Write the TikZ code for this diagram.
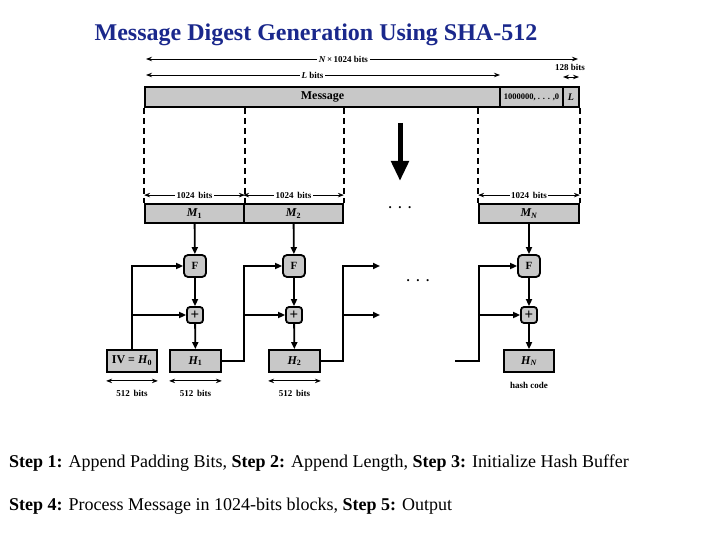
\documentclass[tikz,border=0pt]{standalone}
\usepackage{fontspec}
\setmainfont{Liberation Serif}
\usetikzlibrary{arrows.meta}
\definecolor{boxgray}{RGB}{200,200,200}
\definecolor{titleblue}{RGB}{26,40,140}
\begin{document}
\begin{tikzpicture}[x=1pt,y=-1pt,
  blk/.style={draw, line width=1.8pt, fill=boxgray, inner sep=0pt, font=\bfseries\fontsize{11}{12}\selectfont},
  fbox/.style={blk, rounded corners=4pt, minimum width=22pt, minimum height=22pt},
  pbox/.style={blk, rounded corners=3pt, minimum width=16pt, minimum height=16pt, font=\bfseries\fontsize{15}{15}\selectfont},
  conn/.style={line width=1.8pt, -{Triangle[length=7pt,width=6pt]}},
  dim/.style={line width=0.9pt, {Stealth[length=6pt,width=4.5pt]}-{Stealth[length=6pt,width=4.5pt]}},
  lbl/.style={font=\bfseries\fontsize{9}{10}\selectfont, inner sep=1.5pt},
  mlab/.style={font=\bfseries\itshape\fontsize{12}{13}\selectfont},
  dsh/.style={line width=1.8pt, dash pattern=on 6pt off 4pt}
]
\useasboundingbox (0,0) rectangle (720,540);

% title
\node[text=titleblue, font=\bfseries\fontsize{24}{28}\selectfont] (title) at (316,35) {Message Digest Generation Using SHA-512};

% message bar
\node[blk, minimum width=355pt, minimum height=20pt, font=\bfseries\fontsize{12}{13}\selectfont] (msg) at (322.5,97) {Message};
\node[blk, minimum width=63pt, minimum height=20pt, font=\bfseries\fontsize{8.5}{9}\selectfont] (pad) at (531.5,97) {1000000, . . . ,0};
\node[blk, minimum width=16pt, minimum height=20pt, font=\bfseries\itshape\fontsize{10}{11}\selectfont] (len) at (571,97) {L};

% top dimension arrows
\coordinate (na) at (146,59); \coordinate (nb) at (578,59);
\draw[dim] (na) -- (nb) node[lbl, pos=0.457, fill=white] (nlbl) {\textit{N}\,×\,1024 bits};
\coordinate (la) at (146,75); \coordinate (lb) at (500,75);
\draw[dim] (la) -- (lb) node[lbl, pos=0.47, fill=white] (llbl) {\textit{L} bits};
\coordinate (ka) at (563,77); \coordinate (kb) at (579,77);
\draw[dim] (ka) -- (kb);
\node[lbl] (klbl) at (570,67) {128 bits};

% M boxes
\node[blk, minimum width=99pt, minimum height=19pt, mlab] (M1) at (194.5,213.5) {M\textsubscript{\upshape 1}};
\node[blk, minimum width=99pt, minimum height=19pt, mlab] (M2) at (293.5,213.5) {M\textsubscript{\upshape 2}};
\node[blk, minimum width=100pt, minimum height=19pt, mlab] (MN) at (529,213.5) {M\textsubscript{N}};
\node[font=\bfseries\fontsize{13}{13}\selectfont] (dots1) at (400,208) {.\,\,\,.\,\,\,.};

% dashed lines
\draw[dsh] (M1.north west |- msg.south) -- (M1.north west);
\draw[dsh] (M1.north east |- msg.south) -- (M1.north east);
\draw[dsh] (M2.north east |- msg.south) -- (M2.north east);
\draw[dsh] (MN.north west |- msg.south) -- (MN.north west);
\draw[dsh] (MN.north east |- len.south) -- (MN.north east);

% big arrow
\coordinate (ba) at (400,123); \coordinate (bb) at (400,181);
\draw[line width=5pt, -{Triangle[length=20pt,width=17pt]}] (ba) -- (bb);

% 1024 bits
\draw[dim] ([yshift=8pt]M1.north west) -- ([yshift=8pt]M1.north east) node[lbl, midway, fill=white] {1024\, bits};
\draw[dim] ([yshift=8pt]M2.north west) -- ([yshift=8pt]M2.north east) node[lbl, midway, fill=white] {1024\, bits};
\draw[dim] ([yshift=8pt]MN.north west) -- ([yshift=8pt]MN.north east) node[lbl, midway, fill=white] {1024\, bits};

% F and + boxes
\node[fbox] (F1) at (195,266) {F};
\node[fbox] (F2) at (294,266) {F};
\node[fbox] (FN) at (529,266) {F};
\node[pbox] (P1) at (195,315) {+};
\node[pbox] (P2) at (294,315) {+};
\node[pbox] (PN) at (529,315) {+};
\node[font=\bfseries\fontsize{13}{13}\selectfont] (dots2) at (418,281) {.\,\,\,.\,\,\,.};

% H boxes
\node[blk, minimum width=50pt, minimum height=22pt, font=\bfseries\fontsize{12}{13}\selectfont] (IV) at (132,361) {IV = \textit{H}\textsubscript{0}};
\node[blk, minimum width=51pt, minimum height=22pt, mlab] (H1) at (195.5,361) {H\textsubscript{\upshape 1}};
\node[blk, minimum width=51pt, minimum height=22pt, mlab] (H2) at (294.5,361) {H\textsubscript{\upshape 2}};
\node[blk, minimum width=50pt, minimum height=22pt, mlab] (HN) at (529,361) {H\textsubscript{N}};
\node[lbl] (hc) at (529,385) {hash code};

% vertical flow
\draw[conn] (M1) -- (F1); \draw[conn] (F1) -- (P1); \draw[conn] (P1) -- (H1);
\draw[conn] (M2) -- (F2); \draw[conn] (F2) -- (P2); \draw[conn] (P2) -- (H2);
\draw[conn] (MN) -- (FN); \draw[conn] (FN) -- (PN); \draw[conn] (PN) -- (HN);

% feedback
\draw[conn] (IV.north) |- (F1.west);
\draw[conn] (IV.north |- P1.west) -- (P1.west);
\coordinate (j1) at (244,0);
\draw[conn] (H1.east) -| (j1 |- F2.west) -- (F2.west);
\draw[conn] (j1 |- P2.west) -- (P2.west);
\coordinate (j2) at (343,0);
\coordinate (e1) at (380,266); \coordinate (e2) at (380,315);
\draw[conn] (H2.east) -| (j2 |- e1) -- (e1);
\draw[conn] (j2 |- e2) -- (e2);
\coordinate (s) at (455,361); \coordinate (j3) at (479,0);
\draw[conn] (s) -| (j3 |- FN.west) -- (FN.west);
\draw[conn] (j3 |- PN.west) -- (PN.west);

% 512 bits
\draw[dim] ([yshift=-8pt]IV.south west) -- ([yshift=-8pt]IV.south east);
\node[lbl] at ([yshift=-21pt]IV.south) {512\, bits};
\draw[dim] ([yshift=-8pt]H1.south west) -- ([yshift=-8pt]H1.south east);
\node[lbl] at ([yshift=-21pt]H1.south) {512\, bits};
\draw[dim] ([yshift=-8pt]H2.south west) -- ([yshift=-8pt]H2.south east);
\node[lbl] at ([yshift=-21pt]H2.south) {512\, bits};

% steps
\node[anchor=west, inner sep=0pt, font=\fontsize{18}{20}\selectfont] (s1) at (9,463) {\textbf{Step 1:} Append Padding Bits, \textbf{Step 2:} Append Length, \textbf{Step 3:} Initialize Hash Buffer};
\node[anchor=west, inner sep=0pt, font=\fontsize{18}{20}\selectfont] (s2) at (9,506) {\textbf{Step 4:} Process Message in 1024-bits blocks, \textbf{Step 5:} Output};
\end{tikzpicture}
\end{document}
